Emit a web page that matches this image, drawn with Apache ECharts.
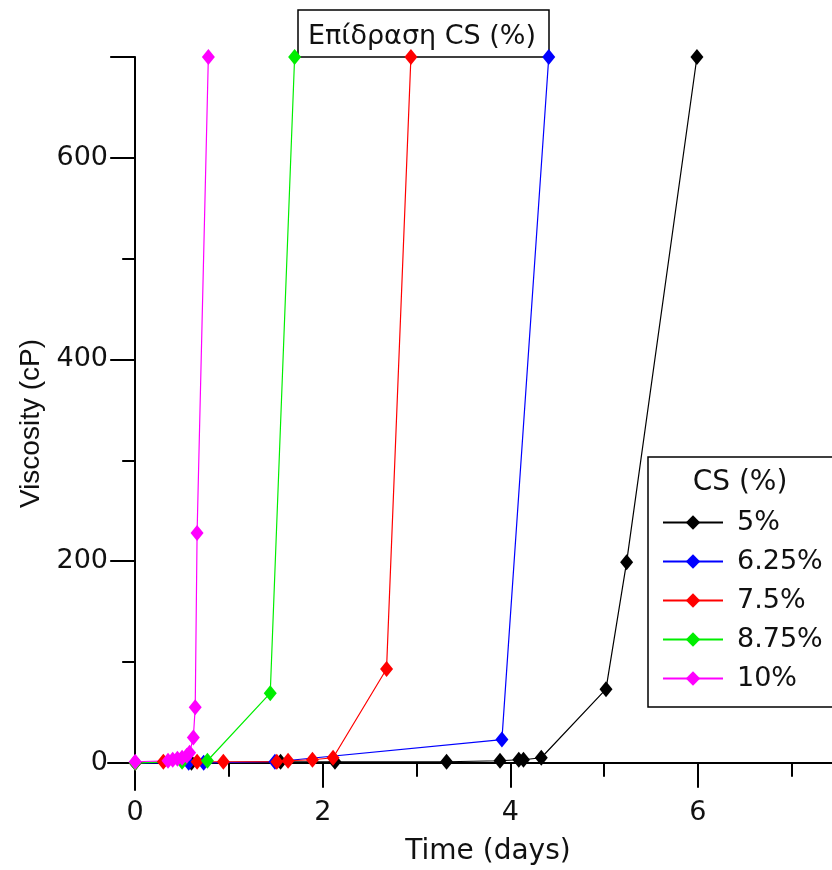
<!DOCTYPE html>
<html>
<head>
<meta charset="utf-8">
<script src="https://cdn.jsdelivr.net/npm/echarts@6/dist/echarts.min.js"></script>
<style>html,body{margin:0;padding:0;background:#fff}#c{width:832px;height:870px}</style>
</head>
<body>
<div id="c"></div>
<script>
const seriesNames = ['5%', '6.25%', '7.5%', '8.75%', '10%'];
const seriesColors = ['#000000', '#0000ff', '#ff0000', '#00ee00', '#ff00ff'];
const time5 = [0, 0.6, 1.55, 2.13, 3.32, 3.89, 4.09, 4.14, 4.33, 5.02, 5.24, 5.99];
const visc5 = [0, 0, 1, 1, 1, 2, 3, 3, 5, 73, 199, 700];
const time625 = [0, 0.57, 0.73, 1.49, 3.91, 4.41];
const visc625 = [0, 0, 0, 1, 23, 700];
const time75 = [0, 0.30, 0.66, 0.94, 1.51, 1.63, 1.89, 2.11, 2.68, 2.94];
const visc75 = [0, 1, 1, 1, 1, 2, 3, 5, 93, 700];
const time875 = [0, 0.5, 0.77, 1.44, 1.70];
const visc875 = [0, 1, 2, 69, 700];
const time10 = [0, 0.35, 0.40, 0.45, 0.50, 0.55, 0.58, 0.62, 0.64, 0.66, 0.78];
const visc10 = [1, 2, 3, 4, 5, 7, 10, 25, 55, 228, 700];
const xMajorTicks = [0, 2, 4, 6];
const xMinorTicks = [1, 3, 5, 7];
const yMajorTicks = [0, 200, 400, 600, 700];
const yLabels = [0, 200, 400, 600];
const yMinorTicks = [100, 300, 500];

const allTimes = [time5, time625, time75, time875, time10];
const allVisc = [visc5, visc625, visc75, visc875, visc10];

const FONT = 'DejaVu Sans';
const TXT = '#111';
const XMIN = -0.29, XMAX = 7.43, YMIN = -27, YMAX = 700;

const chart = echarts.init(document.getElementById('c'), null, {renderer: 'canvas'});
const series = seriesNames.map((n, i) => ({
  name: n,
  type: 'line',
  xAxisIndex: 0, yAxisIndex: 0,
  data: allTimes[i].map((t, k) => [t, allVisc[i][k]]),
  symbol: 'diamond',
  symbolSize: [13, 16],
  showAllSymbol: true,
  color: seriesColors[i],
  lineStyle: {width: 1.2, color: seriesColors[i]},
  itemStyle: {color: seriesColors[i]},
  animation: false,
  z: 3
}));

const axisCommonX = {
  type: 'value', min: XMIN, max: XMAX, position: 'bottom',
  splitLine: {show: false}
};
const axisCommonY = {
  type: 'value', min: YMIN, max: YMAX, position: 'left',
  splitLine: {show: false}
};

chart.setOption({
  animation: false,
  backgroundColor: '#fff',
  grid: {left: 108, right: 0, top: 57, bottom: 80, containLabel: false, outerBoundsMode: 'none'},
  title: [
    {
      text: 'Επίδραση CS (%)', left: 298, top: 10,
      borderColor: '#000', borderWidth: 1.5,
      padding: [13, 13, 7, 10],
      textStyle: {fontFamily: FONT, fontSize: 27, fontWeight: 'normal', color: TXT},
      z: 1
    },
    {
      text: 'CS (%)', left: 740, top: 469, textAlign: 'center',
      padding: 0,
      textStyle: {fontFamily: FONT, fontSize: 28, fontWeight: 'normal', color: TXT}
    }
  ],
  legend: {
    orient: 'vertical', left: 648, top: 457,
    padding: [52, 30, 15, 14],
    borderColor: '#000', borderWidth: 1.5,
    itemWidth: 60, itemHeight: 18, itemGap: 12,
    data: seriesNames,
    textStyle: {fontFamily: FONT, fontSize: 27, color: TXT, padding: [0, 0, 0, 9]}
  },
  xAxis: [
    Object.assign({}, axisCommonX, {
      name: 'Time (days)', nameLocation: 'middle', nameGap: 48,
      nameTextStyle: {fontFamily: FONT, fontSize: 28, color: TXT, padding: [0, 0, 0, 36]},
      axisLine: {show: true, onZero: true, lineStyle: {color: '#000', width: 2}},
      axisTick: {show: true, customValues: xMajorTicks, length: 25, inside: false, lineStyle: {color: '#000', width: 2}},
      axisLabel: {show: true, customValues: xMajorTicks, margin: 9, fontFamily: FONT, fontSize: 27, color: TXT}
    }),
    Object.assign({}, axisCommonX, {
      axisLine: {show: false, onZero: true},
      axisTick: {show: true, customValues: xMinorTicks, length: 14, inside: false, lineStyle: {color: '#000', width: 2}},
      axisLabel: {show: false}
    })
  ],
  yAxis: [
    Object.assign({}, axisCommonY, {
      name: 'Viscosity (cP)', nameLocation: 'middle', nameGap: 63,
      nameTextStyle: {fontFamily: 'Liberation Sans', fontSize: 28, color: TXT},
      axisLine: {show: true, onZero: true, lineStyle: {color: '#000', width: 2}},
      axisTick: {show: true, customValues: yMajorTicks, length: 25, inside: false, lineStyle: {color: '#000', width: 2}},
      axisLabel: {show: true, customValues: yLabels, margin: 0, fontFamily: FONT, fontSize: 27, color: TXT}
    }),
    Object.assign({}, axisCommonY, {
      axisLine: {show: false, onZero: true},
      axisTick: {show: true, customValues: yMinorTicks, length: 13, inside: false, lineStyle: {color: '#000', width: 2}},
      axisLabel: {show: false}
    })
  ],
  series: series
});
</script>
</body>
</html>
